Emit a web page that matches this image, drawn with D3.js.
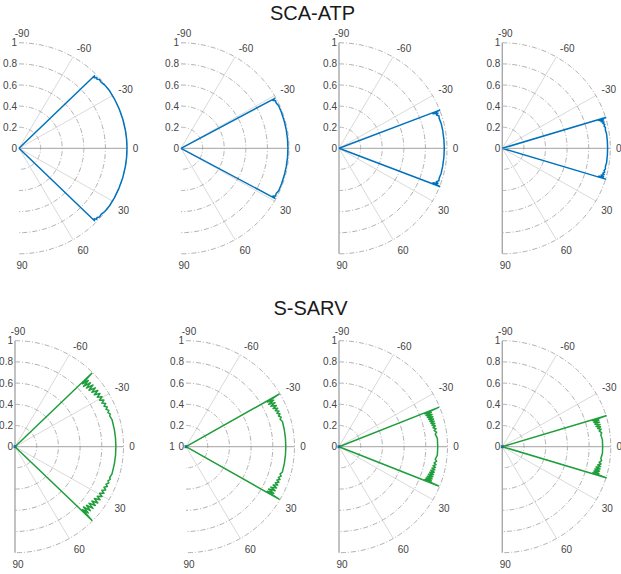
<!DOCTYPE html>
<html><head><meta charset="utf-8">
<script src="https://cdn.jsdelivr.net/npm/d3@7"></script>
<style>body{margin:0;background:#fff}svg{display:block}</style>
</head><body>
<svg id="chart" width="621" height="574"></svg>
<script>
// ---------- data ----------
const rowTitles = ["SCA-ATP", "S-SARV"];
const thetaTicks = [-90, -60, -30, 0, 30, 60, 90];
const rTicks = [0, 0.2, 0.4, 0.6, 0.8, 1];
const rTickLabels = ["0", "0.2", "0.4", "0.6", "0.8", "1"];

// [theta (deg), r]
const scaAtp1 = [[-44.5,0],[-44.5,0.98],[-43.8,0.965],[-43,0.985],[-42.2,0.975],[-41.2,0.99],[-39.5,0.985],[-37,0.995],[-33,1],[-28,1],[-22,1],[-16,1],[-10,1],[-5,1],[0,1],[5,1],[10,1],[16,1],[22,1],[28,1],[33,1],[37,0.995],[39.5,0.985],[41.2,0.99],[42.2,0.975],[43,0.985],[43.8,0.965],[44.5,0.98],[44.5,0]];
const scaAtp2 = [[-28.6,0],[-28.6,0.99],[-28,0.965],[-27.3,0.985],[-26,0.98],[-24,0.99],[-20,0.99],[-15,0.99],[-10,0.99],[-5,0.99],[0,0.99],[5,0.99],[10,0.99],[15,0.99],[20,0.99],[24,0.99],[26,0.98],[27.3,0.985],[28,0.965],[28.6,0.99],[28.6,0]];
const scaAtp3 = [[-21.2,0],[-21.2,1.0],[-20.6,0.93],[-20,0.975],[-19.3,0.955],[-18.4,0.975],[-17,0.97],[-14,0.975],[-10,0.975],[-5,0.975],[0,0.975],[5,0.975],[10,0.975],[14,0.975],[17,0.97],[18.4,0.975],[19.3,0.955],[20,0.975],[20.6,0.93],[21.2,1.0],[21.2,0]];
const scaAtp4 = [[-17,0],[-17,1.0],[-16.5,0.93],[-16,0.975],[-15.4,0.95],[-14.8,0.975],[-14.2,0.96],[-13.4,0.975],[-12.6,0.965],[-11.6,0.975],[-10.4,0.97],[-8,0.975],[-4,0.975],[0,0.975],[4,0.975],[8,0.975],[10.4,0.97],[11.6,0.975],[12.6,0.965],[13.4,0.975],[14.2,0.96],[14.8,0.975],[15.4,0.95],[16,0.975],[16.5,0.93],[17,1.0],[17,0]];

const sSarv1 = [[-44.4,0],[-44.4,0.99],[-43.6,0.86],[-42.8,0.92],[-42,0.85],[-41,0.92],[-40,0.86],[-39,0.925],[-38,0.865],[-36.9,0.925],[-35.9,0.875],[-34.8,0.93],[-33.8,0.88],[-32.6,0.93],[-31.6,0.89],[-30.4,0.93],[-29.4,0.895],[-28.2,0.93],[-27.2,0.9],[-26,0.93],[-25,0.905],[-23.8,0.93],[-22.8,0.91],[-21.6,0.93],[-20.6,0.915],[-19.4,0.93],[-18.4,0.92],[-16,0.93],[-10,0.93],[-5,0.93],[0,0.93],[5,0.93],[10,0.93],[16,0.93],[18.4,0.92],[19.4,0.93],[20.6,0.915],[21.6,0.93],[22.8,0.91],[23.8,0.93],[25,0.905],[26,0.93],[27.2,0.9],[28.2,0.93],[29.4,0.895],[30.4,0.93],[31.6,0.89],[32.6,0.93],[33.8,0.88],[34.8,0.93],[35.9,0.875],[36.9,0.925],[38,0.865],[39,0.925],[40,0.86],[41,0.92],[42,0.85],[42.8,0.92],[43.6,0.86],[44.4,0.99],[44.4,0]];
const sSarv2 = [[-30,0],[-30,0.99],[-29.3,0.86],[-28.5,0.92],[-27.7,0.86],[-26.8,0.92],[-26,0.87],[-25,0.92],[-24.2,0.88],[-23.2,0.92],[-22.4,0.89],[-21.4,0.92],[-20.6,0.895],[-19.6,0.92],[-18.8,0.9],[-17.6,0.92],[-16.6,0.905],[-15,0.92],[-10,0.92],[-5,0.92],[0,0.92],[5,0.92],[10,0.92],[15,0.92],[16.6,0.905],[17.6,0.92],[18.8,0.9],[19.6,0.92],[20.6,0.895],[21.4,0.92],[22.4,0.89],[23.2,0.92],[24.2,0.88],[25,0.92],[26,0.87],[26.8,0.92],[27.7,0.86],[28.5,0.92],[29.3,0.86],[30,0.99],[30,0]];
const sSarv3 = [[-22,0],[-22,0.99],[-21.4,0.85],[-20.8,0.91],[-20.2,0.855],[-19.5,0.91],[-18.9,0.86],[-18.1,0.91],[-17.5,0.865],[-16.7,0.91],[-16.1,0.87],[-15.3,0.91],[-14.7,0.875],[-13.9,0.91],[-13.3,0.88],[-12.4,0.91],[-11.7,0.885],[-10.7,0.91],[-9.9,0.89],[-8.6,0.91],[-7.6,0.895],[-5,0.91],[0,0.91],[5,0.91],[7.6,0.895],[8.6,0.91],[9.9,0.89],[10.7,0.91],[11.7,0.885],[12.4,0.91],[13.3,0.88],[13.9,0.91],[14.7,0.875],[15.3,0.91],[16.1,0.87],[16.7,0.91],[17.5,0.865],[18.1,0.91],[18.9,0.86],[19.5,0.91],[20.2,0.855],[20.8,0.91],[21.4,0.85],[22,0.99],[22,0]];
const sSarv4 = [[-17,0],[-17,1.0],[-16.4,0.87],[-15.8,0.925],[-15.2,0.875],[-14.5,0.925],[-13.9,0.88],[-13.1,0.925],[-12.5,0.885],[-11.7,0.925],[-11.1,0.895],[-10.2,0.925],[-9.4,0.905],[-8.2,0.925],[-7,0.915],[-4,0.925],[0,0.925],[4,0.925],[7,0.915],[8.2,0.925],[9.4,0.905],[10.2,0.925],[11.1,0.895],[11.7,0.925],[12.5,0.885],[13.1,0.925],[13.9,0.88],[14.5,0.925],[15.2,0.875],[15.8,0.925],[16.4,0.87],[17,1.0],[17,0]];

const rowSeries = [[scaAtp1, scaAtp2, scaAtp3, scaAtp4], [sSarv1, sSarv2, sSarv3, sSarv4]];
const rowColors = ["#0072BD", "#1f9e3c"];

// ---------- layout ----------
const rows = [
  {cy: 148.3, rx: 108, ry: 105.5, cxs: [19, 181, 339, 502.3], titleX: 312.5, titleY: 20, axisShown: [false, false, true, true]},
  {cy: 446.7, rx: 108.5, ry: 106, cxs: [15, 186, 339, 502.3], titleX: 310.5, titleY: 315, axisShown: [true, false, true, true]}
];
const labelOffsets = {"-90": [3, -9], "-60": [11, -8.5], "-30": [13, -6], "0": [8.5, 0], "30": [11, 9], "60": [10, 11], "90": [3, 12]};

const svg = d3.select("#chart");
const font = "'Liberation Sans', Arial, Helvetica, sans-serif";
const ang = d3.scaleLinear().domain([-90, 90]).range([-Math.PI / 2, Math.PI / 2]);

rows.forEach((row, ri) => {
  svg.append("text").attr("x", row.titleX).attr("y", row.titleY)
    .attr("text-anchor", "middle").attr("font-family", font).attr("font-size", 20)
    .attr("fill", "#1a1a1a").text(rowTitles[ri]);

  row.cxs.forEach((cx, pi) => {
    const xs = d3.scaleLinear().domain([-1, 1]).range([cx - row.rx, cx + row.rx]);
    const ys = d3.scaleLinear().domain([-1, 1]).range([row.cy - row.ry, row.cy + row.ry]);
    const px = d => xs(d[1] * Math.cos(ang(d[0])));
    const py = d => ys(d[1] * Math.sin(ang(d[0])));
    const line = d3.line().x(px).y(py);
    const g = svg.append("g");

    // spokes
    thetaTicks.filter(t => Math.abs(t) !== 90).forEach(t => {
      g.append("path").attr("d", line([[t, 0], [t, 1]]))
        .attr("stroke", t === 0 ? "#b4b4b4" : "#cfcfcf").attr("stroke-width", t === 0 ? 1.2 : 0.8).attr("fill", "none");
    });
    // rings
    const degs = d3.range(-90, 90.01, 1);
    rTicks.filter(r => r > 0).forEach(r => {
      g.append("path").attr("d", line(degs.map(t => [t, r])))
        .attr("stroke", "#9a9a9a").attr("stroke-width", 0.8).attr("fill", "none")
        .attr("stroke-dasharray", "5,2,1,2");
    });
    // vertical axis line
    if (row.axisShown[pi]) {
      g.append("path").attr("d", line([[-90, 1], [-90, 0], [90, 1]]))
        .attr("stroke", "#a8a8a8").attr("stroke-width", 1.4).attr("fill", "none");
    }
    // r tick labels
    rTicks.forEach((r, i) => {
      g.append("text").attr("x", cx - 2).attr("y", py([-90, r]))
        .attr("text-anchor", "end").attr("dominant-baseline", "central")
        .attr("font-family", font).attr("font-size", 10).attr("fill", "#444").text(rTickLabels[i]);
    });
    // theta tick labels
    thetaTicks.forEach(t => {
      const o = labelOffsets[String(t)];
      g.append("text").attr("x", px([t, 1]) + o[0]).attr("y", py([t, 1]) + o[1])
        .attr("text-anchor", "middle").attr("dominant-baseline", "central")
        .attr("font-family", font).attr("font-size", 10).attr("fill", "#444").text(String(t));
    });
    // data
    g.append("path").attr("d", line(rowSeries[ri][pi]))
      .attr("stroke", rowColors[ri]).attr("stroke-width", 1.5).attr("fill", "none")
      .attr("stroke-linejoin", "round");
    if (ri === 1) {
      g.append("rect").attr("x", px([0, 0]) - 1.5).attr("y", py([0, 0]) - 1.5)
        .attr("width", 3).attr("height", 3).attr("fill", "#1d6f8a");
    }
  });
});
// stray label seen in the reference (panel 6)
svg.append("text").attr("x", 172).attr("y", 446.7).attr("text-anchor", "middle")
  .attr("dominant-baseline", "central").attr("font-family", font).attr("font-size", 10)
  .attr("fill", "#444").text("1");
</script>
</body></html>
